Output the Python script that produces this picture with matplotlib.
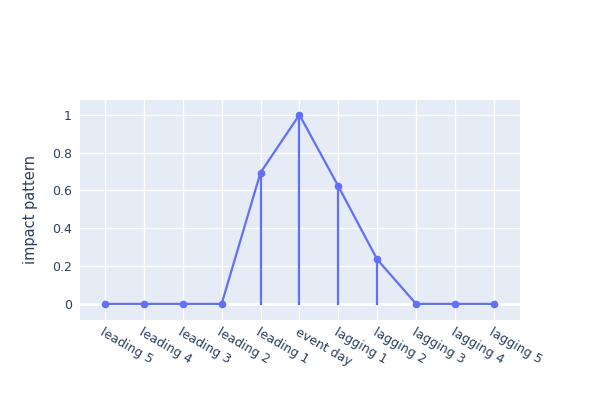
import matplotlib
matplotlib.use("Agg")
import matplotlib.pyplot as plt

# Event window categories and impact values
days = ["leading 5", "leading 4", "leading 3", "leading 2", "leading 1",
        "event day", "lagging 1", "lagging 2", "lagging 3", "lagging 4", "lagging 5"]
impact = [0, 0, 0, 0, 0.694, 1.0, 0.622, 0.235, 0, 0, 0]

line_color = "#636efa"
text_color = "#2a3f5f"

fig = plt.figure(figsize=(6, 4), dpi=100)
ax = fig.add_axes([80 / 600, 80 / 400, 440 / 600, 220 / 400])
ax.set_facecolor("#e5ecf6")

x = list(range(len(days)))

# stems from zero up to each value
for xi, v in zip(x, impact):
    if v != 0:
        ax.plot([xi, xi], [0, v], color=line_color, lw=1.6, zorder=3)

ax.plot(x, impact, color=line_color, lw=1.6, marker="o", markersize=4.5, zorder=4)

ax.set_xlim(-0.64, 10.67)
ax.set_ylim(-0.085, 1.078)
ax.set_xticks(x)
ax.set_xticklabels(days, rotation=-30, ha="left", va="top", rotation_mode="anchor")
ax.set_yticks([0, 0.2, 0.4, 0.6, 0.8, 1])
ax.set_yticklabels(["0", "0.2", "0.4", "0.6", "0.8", "1"])

ax.grid(True, color="white", lw=1, zorder=0)
ax.axhline(0, color="white", lw=2, zorder=1)
ax.set_axisbelow(True)
for s in ax.spines.values():
    s.set_visible(False)
ax.tick_params(length=0, colors=text_color, labelsize=9)
ax.tick_params(axis="x", pad=4)
ax.tick_params(axis="y", pad=6)

ax.set_ylabel("impact pattern", color=text_color, fontsize=10.5, labelpad=10)

fig.savefig("out.png", dpi=100)
